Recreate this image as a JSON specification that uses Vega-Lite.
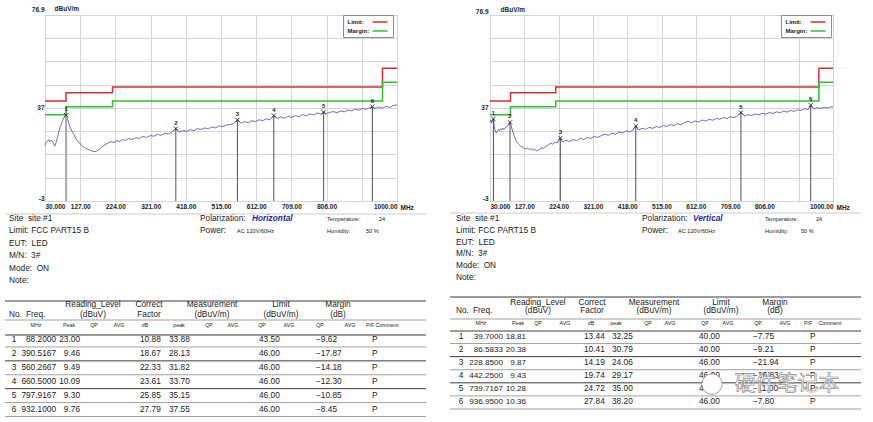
{
"$schema":"https://vega.github.io/schema/vega-lite/v6.json",
"background":"white",
"padding":{"left":4,"top":4,"right":10,"bottom":0},
"config":{"font":"Liberation Sans","view":{"stroke":"#5f5f5f"}},
"spacing":22,
"resolve":{"scale":{"color":"independent"},"legend":{"color":"independent"}},
"datasets":{
"limits":[{"freq":30,"level":40,"s":"Limit"},{"freq":88,"level":43.5,"s":"Limit"},{"freq":216,"level":46,"s":"Limit"},{"freq":960,"level":54,"s":"Limit"},{"freq":1000,"level":54,"s":"Limit"},{"freq":30,"level":34,"s":"Margin"},{"freq":88,"level":37.5,"s":"Margin"},{"freq":216,"level":40,"s":"Margin"},{"freq":960,"level":48,"s":"Margin"},{"freq":1000,"level":48,"s":"Margin"}],
"traceL":[{"freq":30,"level":20.9},{"freq":33,"level":22.0},{"freq":36,"level":22.6},{"freq":40,"level":23.3},{"freq":43,"level":22.4},{"freq":46,"level":23.1},{"freq":50,"level":22.7},{"freq":53,"level":21.9},{"freq":57,"level":20.6},{"freq":60,"level":21.9},{"freq":64,"level":24.1},{"freq":68,"level":26.6},{"freq":72,"level":28.9},{"freq":76,"level":30.6},{"freq":80,"level":32.1},{"freq":84,"level":33.3},{"freq":88.2,"level":33.88},{"freq":92,"level":32.4},{"freq":96,"level":30.2},{"freq":100,"level":28.4},{"freq":105,"level":26.8},{"freq":110,"level":25.5},{"freq":114,"level":24.1},{"freq":118,"level":23.0},{"freq":123,"level":22.4},{"freq":128,"level":21.4},{"freq":133,"level":20.5},{"freq":138,"level":20.1},{"freq":144,"level":19.5},{"freq":150,"level":19.1},{"freq":156,"level":18.7},{"freq":162,"level":18.4},{"freq":168,"level":18.2},{"freq":174,"level":18.6},{"freq":180,"level":19.2},{"freq":186,"level":20.1},{"freq":192,"level":20.8},{"freq":198,"level":21.4},{"freq":205,"level":22.0},{"freq":212,"level":22.5},{"freq":220,"level":22.1},{"freq":228,"level":22.9},{"freq":236,"level":22.6},{"freq":244,"level":23.4},{"freq":252,"level":23.0},{"freq":260,"level":23.8},{"freq":270,"level":23.4},{"freq":280,"level":24.2},{"freq":290,"level":23.9},{"freq":300,"level":24.7},{"freq":310,"level":24.3},{"freq":320,"level":25.1},{"freq":330,"level":24.8},{"freq":340,"level":25.6},{"freq":350,"level":25.2},{"freq":360,"level":26.1},{"freq":370,"level":25.8},{"freq":380,"level":26.6},{"freq":390.5,"level":28.1},{"freq":400,"level":26.5},{"freq":410,"level":27.3},{"freq":420,"level":26.9},{"freq":430,"level":27.7},{"freq":440,"level":27.2},{"freq":450,"level":28.1},{"freq":460,"level":27.7},{"freq":470,"level":28.4},{"freq":480,"level":28.0},{"freq":490,"level":28.8},{"freq":500,"level":28.4},{"freq":510,"level":29.3},{"freq":520,"level":28.9},{"freq":530,"level":29.7},{"freq":540,"level":29.8},{"freq":550,"level":30.4},{"freq":560.3,"level":31.8},{"freq":570,"level":30.4},{"freq":580,"level":31.1},{"freq":590,"level":30.7},{"freq":600,"level":31.5},{"freq":610,"level":31.1},{"freq":620,"level":31.9},{"freq":630,"level":31.5},{"freq":640,"level":32.3},{"freq":650,"level":31.9},{"freq":660.5,"level":33.7},{"freq":670,"level":32.4},{"freq":680,"level":33.1},{"freq":690,"level":32.6},{"freq":700,"level":33.4},{"freq":710,"level":32.9},{"freq":720,"level":33.7},{"freq":730,"level":33.2},{"freq":740,"level":34.1},{"freq":750,"level":33.6},{"freq":760,"level":34.4},{"freq":770,"level":34.0},{"freq":780,"level":34.8},{"freq":790,"level":34.3},{"freq":797.9,"level":35.15},{"freq":805,"level":34.5},{"freq":815,"level":35.1},{"freq":825,"level":35.4},{"freq":835,"level":34.9},{"freq":845,"level":35.7},{"freq":855,"level":35.3},{"freq":865,"level":36.1},{"freq":875,"level":35.7},{"freq":885,"level":36.5},{"freq":895,"level":36.0},{"freq":905,"level":36.8},{"freq":915,"level":36.4},{"freq":925,"level":37.1},{"freq":932.1,"level":37.55},{"freq":940,"level":36.7},{"freq":950,"level":37.4},{"freq":960,"level":36.9},{"freq":970,"level":37.7},{"freq":980,"level":37.2},{"freq":990,"level":38.0},{"freq":1000,"level":38.3}],
"traceR":[{"freq":30,"level":30.8},{"freq":32,"level":31.6},{"freq":35,"level":30.5},{"freq":37.5,"level":31.7},{"freq":39.7,"level":32.25},{"freq":42,"level":29.0},{"freq":45,"level":27.0},{"freq":48,"level":26.2},{"freq":51,"level":27.1},{"freq":54,"level":27.7},{"freq":57,"level":27.1},{"freq":60,"level":28.0},{"freq":63,"level":27.4},{"freq":66,"level":28.3},{"freq":70,"level":27.7},{"freq":74,"level":28.7},{"freq":78,"level":28.9},{"freq":82,"level":29.7},{"freq":86.58,"level":30.79},{"freq":90,"level":29.1},{"freq":94,"level":27.0},{"freq":98,"level":25.1},{"freq":102,"level":23.5},{"freq":107,"level":22.1},{"freq":112,"level":21.3},{"freq":117,"level":20.4},{"freq":122,"level":20.1},{"freq":127,"level":19.6},{"freq":132,"level":19.3},{"freq":137,"level":19.7},{"freq":142,"level":19.0},{"freq":147,"level":19.5},{"freq":152,"level":18.7},{"freq":157,"level":19.2},{"freq":162,"level":18.5},{"freq":167,"level":19.0},{"freq":172,"level":19.4},{"freq":177,"level":19.9},{"freq":182,"level":19.5},{"freq":187,"level":20.4},{"freq":192,"level":20.8},{"freq":197,"level":21.3},{"freq":202,"level":21.8},{"freq":208,"level":21.4},{"freq":214,"level":22.4},{"freq":220,"level":21.9},{"freq":228.85,"level":24.06},{"freq":235,"level":22.3},{"freq":245,"level":23.1},{"freq":255,"level":22.6},{"freq":265,"level":23.4},{"freq":275,"level":23.0},{"freq":285,"level":23.9},{"freq":295,"level":23.4},{"freq":305,"level":24.3},{"freq":315,"level":23.9},{"freq":325,"level":24.7},{"freq":335,"level":24.3},{"freq":345,"level":25.1},{"freq":355,"level":25.7},{"freq":365,"level":25.2},{"freq":375,"level":26.1},{"freq":385,"level":25.7},{"freq":395,"level":26.6},{"freq":405,"level":26.2},{"freq":415,"level":27.1},{"freq":425,"level":26.7},{"freq":435,"level":27.5},{"freq":442.25,"level":29.17},{"freq":450,"level":27.5},{"freq":460,"level":28.2},{"freq":470,"level":27.8},{"freq":480,"level":28.6},{"freq":490,"level":28.2},{"freq":500,"level":29.0},{"freq":510,"level":28.6},{"freq":520,"level":29.4},{"freq":530,"level":29.0},{"freq":540,"level":29.8},{"freq":550,"level":29.4},{"freq":560,"level":30.2},{"freq":570,"level":29.8},{"freq":580,"level":30.7},{"freq":590,"level":31.3},{"freq":600,"level":30.6},{"freq":610,"level":31.4},{"freq":620,"level":30.9},{"freq":630,"level":31.8},{"freq":640,"level":31.3},{"freq":650,"level":32.1},{"freq":660,"level":31.7},{"freq":670,"level":32.5},{"freq":680,"level":32.1},{"freq":690,"level":32.9},{"freq":700,"level":32.4},{"freq":710,"level":33.2},{"freq":720,"level":32.8},{"freq":730,"level":33.6},{"freq":739.72,"level":35.0},{"freq":750,"level":33.5},{"freq":760,"level":34.1},{"freq":770,"level":33.7},{"freq":780,"level":34.4},{"freq":790,"level":34.0},{"freq":800,"level":34.7},{"freq":810,"level":34.3},{"freq":820,"level":35.0},{"freq":830,"level":34.6},{"freq":840,"level":35.3},{"freq":850,"level":34.9},{"freq":860,"level":35.6},{"freq":870,"level":35.2},{"freq":880,"level":35.9},{"freq":890,"level":35.5},{"freq":900,"level":36.2},{"freq":910,"level":35.9},{"freq":920,"level":36.6},{"freq":930,"level":36.3},{"freq":936.95,"level":38.0},{"freq":945,"level":36.6},{"freq":955,"level":37.1},{"freq":965,"level":36.7},{"freq":975,"level":37.3},{"freq":985,"level":36.9},{"freq":995,"level":37.5},{"freq":1000,"level":37.4}],
"resL":[{"no":1,"freq":88.2,"peak":23.00,"cf":10.88,"level":33.88,"limit":43.50,"margin":-9.62,"pf":"P"},{"no":2,"freq":390.5167,"peak":9.46,"cf":18.67,"level":28.13,"limit":46,"margin":-17.87,"pf":"P"},{"no":3,"freq":560.2667,"peak":9.49,"cf":22.33,"level":31.82,"limit":46,"margin":-14.18,"pf":"P"},{"no":4,"freq":660.5,"peak":10.09,"cf":23.61,"level":33.70,"limit":46,"margin":-12.30,"pf":"P"},{"no":5,"freq":797.9167,"peak":9.30,"cf":25.85,"level":35.15,"limit":46,"margin":-10.85,"pf":"P"},{"no":6,"freq":932.1,"peak":9.76,"cf":27.79,"level":37.55,"limit":46,"margin":-8.45,"pf":"P"}],
"resR":[{"no":1,"freq":39.7,"peak":18.81,"cf":13.44,"level":32.25,"limit":40,"margin":-7.75,"pf":"P"},{"no":2,"freq":86.5833,"peak":20.38,"cf":10.41,"level":30.79,"limit":40,"margin":-9.21,"pf":"P"},{"no":3,"freq":228.85,"peak":9.87,"cf":14.19,"level":24.06,"limit":46,"margin":-21.94,"pf":"P"},{"no":4,"freq":442.25,"peak":9.43,"cf":19.74,"level":29.17,"limit":46,"margin":-16.83,"pf":"P"},{"no":5,"freq":739.7167,"peak":10.28,"cf":24.72,"level":35.00,"limit":46,"margin":-11.00,"pf":"P"},{"no":6,"freq":936.95,"peak":10.36,"cf":27.84,"level":38.20,"limit":46,"margin":-7.80,"pf":"P"}],
"labels":[{"g":"info","c":0,"r":-11,"t":"Site\u00a0 site #1"},{"g":"info","c":0,"r":-10,"t":"Limit: FCC PART15 B"},{"g":"info","c":0,"r":-9,"t":"EUT:\u00a0 LED"},{"g":"info","c":0,"r":-8,"t":"M/N:\u00a0 3#"},{"g":"info","c":0,"r":-7,"t":"Mode:\u00a0 ON"},{"g":"info","c":0,"r":-6,"t":"Note:"},{"g":"info","c":29,"r":-11,"t":"Polarization:"},{"g":"info","c":29,"r":-10,"t":"Power:"},
{"g":"small","c":31,"r":-10,"t":"AC 120V/60Hz"},{"g":"small","c":32,"r":-11,"t":"Temperature:"},{"g":"small","c":33,"r":-11,"t":"24"},{"g":"small","c":32,"r":-10,"t":"Humidity:"},{"g":"small","c":34,"r":-10,"t":"50 %"},
{"g":"hl","c":0,"r":-3,"t":"No."},{"g":"hl","c":2,"r":-3,"t":"Freq."},
{"g":"hc","c":7,"r":-4,"t":"Reading_Level"},{"g":"hc","c":7,"r":-3,"t":"(dBuV)"},{"g":"hc","c":10,"r":-4,"t":"Correct"},{"g":"hc","c":10,"r":-3,"t":"Factor"},{"g":"hc","c":13,"r":-4,"t":"Measurement"},{"g":"hc","c":13,"r":-3,"t":"(dBuV/m)"},{"g":"hc","c":18,"r":-4,"t":"Limit"},{"g":"hc","c":18,"r":-3,"t":"(dBuV/m)"},{"g":"hc","c":22,"r":-4,"t":"Margin"},{"g":"hc","c":22,"r":-3,"t":"(dB)"},
{"g":"u","c":3,"r":-1,"t":"MHz"},{"g":"u","c":5,"r":-1,"t":"Peak"},{"g":"u","c":8,"r":-1,"t":"QP"},{"g":"u","c":9,"r":-1,"t":"AVG"},{"g":"u","c":11,"r":-1,"t":"dB"},{"g":"u","c":14,"r":-1,"t":"peak"},{"g":"u","c":16,"r":-1,"t":"QP"},{"g":"u","c":17,"r":-1,"t":"AVG"},{"g":"u","c":19,"r":-1,"t":"QP"},{"g":"u","c":21,"r":-1,"t":"AVG"},{"g":"u","c":23,"r":-1,"t":"QP"},{"g":"u","c":25,"r":-1,"t":"AVG"},{"g":"u","c":26,"r":-1,"t":"P/F"},{"g":"u","c":28,"r":-1,"t":"Comment"}],
"lines":[{"r":-12,"k":"l"},{"r":-5,"k":"d"},{"r":-2,"k":"m"},{"r":0,"k":"d"},{"r":1.5,"k":"m"},{"r":2.5,"k":"d"},{"r":3.5,"k":"m"},{"r":4.5,"k":"d"},{"r":5.5,"k":"m"},{"r":6.5,"k":"m"}]
},
"hconcat":[
{"bounds":"flush","spacing":11,"vconcat":[
{"width":352,"height":186,
"encoding":{
"x":{"field":"freq","type":"quantitative","scale":{"domain":[30,1000],"nice":false,"zero":false},"axis":{"values":[30,127,224,321,418,515,612,709,806,903,1000],"labelExpr":"datum.value == 30 ? '30.000' : datum.value == 903 ? '' : format(datum.value, '.2f')","grid":true,"gridColor":"#d4d4d4","ticks":false,"domain":false,"labelFlush":true,"labelOverlap":false,"labelFontSize":6.5,"labelFontWeight":"bold","labelColor":"#222","labelPadding":2,"title":"MHz","titleX":355,"titleY":6,"titleAlign":"left","titleBaseline":"middle","titleFontSize":6.5,"titleFontWeight":"bold","titleColor":"#222"}},
"y":{"field":"level","type":"quantitative","scale":{"domain":[-3,76.9],"nice":false,"zero":false},"axis":{"values":[-3,7,17,27,37,47,57,67,76.9],"labelExpr":"indexof([-3,37,76.9], datum.value) >= 0 ? '' + datum.value : ''","grid":true,"gridColor":"#d4d4d4","ticks":false,"domain":false,"labelFontSize":6.5,"labelFontWeight":"bold","labelColor":"#222","labelPadding":1,"labelBaseline":{"condition":{"test":"datum.value == 37","value":"middle"},"value":"bottom"},"labelOffset":{"condition":{"test":"datum.value > 76","value":-3},"value":0},"title":"dBuV/m","titleAngle":0,"titleX":9,"titleY":-7,"titleAlign":"left","titleBaseline":"middle","titleFontSize":6.5,"titleFontWeight":"bold","titleColor":"#222"}}},
"layer":[
{"data":{"name":"traceL"},"mark":{"type":"line","color":"#4848b0","strokeWidth":0.8}},
{"data":{"name":"limits"},"mark":{"type":"line","strokeWidth":1.5,"interpolate":"step-after"},"encoding":{"color":{"field":"s","type":"nominal","scale":{"domain":["Limit","Margin"],"range":["#d03030","#30c030"]},"legend":{"orient":"none","legendX":298,"legendY":0,"title":null,"fillColor":"white","strokeColor":"#8c8c8c","padding":2.5,"rowPadding":1,"labelFontSize":6,"labelFontWeight":"bold","labelColor":"#222","labelExpr":"datum.label + ':'","symbolType":"M-2,0L2,0","symbolStrokeWidth":1.5,"symbolSize":56,"symbolOffset":30,"labelOffset":-37}}}},
{"data":{"name":"resL"},"mark":{"type":"rule"},"encoding":{"y2":{"datum":-3},"color":{"condition":{"test":"datum.no == 1","value":"#a8a8a8"},"value":"#505050"},"strokeWidth":{"condition":{"test":"datum.no == 1","value":2},"value":1}}},
{"data":{"name":"resL"},"mark":{"type":"point","shape":"M-1,-1L1,1M-1,1L1,-1","size":18,"filled":false,"color":"#222","strokeWidth":0.9,"opacity":1}},
{"data":{"name":"resL"},"mark":{"type":"text","dy":-6,"fontSize":6,"fontWeight":"bold","color":"#222"},"encoding":{"text":{"field":"no"}}}
]},
{"width":352,"height":212,"view":{"stroke":null},
"layer":[
{"data":{"name":"lines"},"mark":{"type":"rule"},"encoding":{"x":{"datum":35,"type":"quantitative","scale":{"domain":[0,1,2,3,4,5,6,7,8,9,10,11,12,13,14,15,16,17,18,19,20,21,22,23,24,25,26,27,28,29,30,31,32,33,34,35,36,37,38],"range":[-36,-31,-19,-9,11,24,35,48,49,74,104,100,95,167,134,124,164,188,236,217,214,244,293,275,271,305,325,327,342,155,207,192,282,334,321,-40,381,300,230],"zero":false,"nice":false},"axis":null},"x2":{"datum":36},"y":{"field":"r","type":"quantitative","scale":{"domain":[-12,-11,-6,-5,-4,-3,-2,-1,0,1,6.5],"range":[2,7,69,89,93,103,108,113,123,128,204.5],"zero":false,"nice":false},"axis":null},"color":{"condition":[{"test":"datum.k == 'd'","value":"#3a3a3a"},{"test":"datum.k == 'l'","value":"#cccccc"}],"value":"#a0a0a0"}}},
{"data":{"name":"labels"},"transform":[{"filter":"datum.g == 'info'"}],"mark":{"type":"text","align":"left","baseline":"middle","fontSize":8.3,"fill":"#1a1a1a"},"encoding":{"x":{"field":"c","type":"quantitative","scale":{"domain":[0,1,2,3,4,5,6,7,8,9,10,11,12,13,14,15,16,17,18,19,20,21,22,23,24,25,26,27,28,29,30,31,32,33,34,35,36,37,38],"range":[-36,-31,-19,-9,11,24,35,48,49,74,104,100,95,167,134,124,164,188,236,217,214,244,293,275,271,305,325,327,342,155,207,192,282,334,321,-40,381,300,230],"zero":false,"nice":false},"axis":null},"y":{"field":"r","type":"quantitative","scale":{"domain":[-12,-11,-6,-5,-4,-3,-2,-1,0,1,6.5],"range":[2,7,69,89,93,103,108,113,123,128,204.5],"zero":false,"nice":false},"axis":null},"text":{"field":"t"}}},
{"data":{"name":"labels"},"transform":[{"filter":"datum.g == 'small'"}],"mark":{"type":"text","align":"left","baseline":"middle","fontSize":5.6,"fill":"#1a1a1a"},"encoding":{"x":{"field":"c","type":"quantitative","scale":{"domain":[0,1,2,3,4,5,6,7,8,9,10,11,12,13,14,15,16,17,18,19,20,21,22,23,24,25,26,27,28,29,30,31,32,33,34,35,36,37,38],"range":[-36,-31,-19,-9,11,24,35,48,49,74,104,100,95,167,134,124,164,188,236,217,214,244,293,275,271,305,325,327,342,155,207,192,282,334,321,-40,381,300,230],"zero":false,"nice":false},"axis":null},"y":{"field":"r","type":"quantitative","scale":{"domain":[-12,-11,-6,-5,-4,-3,-2,-1,0,1,6.5],"range":[2,7,69,89,93,103,108,113,123,128,204.5],"zero":false,"nice":false},"axis":null},"text":{"field":"t"}}},
{"data":{"name":"labels"},"transform":[{"filter":"datum.g == 'hl'"}],"mark":{"type":"text","align":"left","baseline":"middle","fontSize":8.3,"fill":"#1a1a1a"},"encoding":{"x":{"field":"c","type":"quantitative","scale":{"domain":[0,1,2,3,4,5,6,7,8,9,10,11,12,13,14,15,16,17,18,19,20,21,22,23,24,25,26,27,28,29,30,31,32,33,34,35,36,37,38],"range":[-36,-31,-19,-9,11,24,35,48,49,74,104,100,95,167,134,124,164,188,236,217,214,244,293,275,271,305,325,327,342,155,207,192,282,334,321,-40,381,300,230],"zero":false,"nice":false},"axis":null},"y":{"field":"r","type":"quantitative","scale":{"domain":[-12,-11,-6,-5,-4,-3,-2,-1,0,1,6.5],"range":[2,7,69,89,93,103,108,113,123,128,204.5],"zero":false,"nice":false},"axis":null},"text":{"field":"t"}}},
{"data":{"name":"labels"},"transform":[{"filter":"datum.g == 'hc'"}],"mark":{"type":"text","align":"center","baseline":"middle","fontSize":8.3,"fill":"#1a1a1a"},"encoding":{"x":{"field":"c","type":"quantitative","scale":{"domain":[0,1,2,3,4,5,6,7,8,9,10,11,12,13,14,15,16,17,18,19,20,21,22,23,24,25,26,27,28,29,30,31,32,33,34,35,36,37,38],"range":[-36,-31,-19,-9,11,24,35,48,49,74,104,100,95,167,134,124,164,188,236,217,214,244,293,275,271,305,325,327,342,155,207,192,282,334,321,-40,381,300,230],"zero":false,"nice":false},"axis":null},"y":{"field":"r","type":"quantitative","scale":{"domain":[-12,-11,-6,-5,-4,-3,-2,-1,0,1,6.5],"range":[2,7,69,89,93,103,108,113,123,128,204.5],"zero":false,"nice":false},"axis":null},"text":{"field":"t"}}},
{"data":{"name":"labels"},"transform":[{"filter":"datum.g == 'u'"}],"mark":{"type":"text","align":"center","baseline":"middle","fontSize":5.3,"fill":"#1a1a1a"},"encoding":{"x":{"field":"c","type":"quantitative","scale":{"domain":[0,1,2,3,4,5,6,7,8,9,10,11,12,13,14,15,16,17,18,19,20,21,22,23,24,25,26,27,28,29,30,31,32,33,34,35,36,37,38],"range":[-36,-31,-19,-9,11,24,35,48,49,74,104,100,95,167,134,124,164,188,236,217,214,244,293,275,271,305,325,327,342,155,207,192,282,334,321,-40,381,300,230],"zero":false,"nice":false},"axis":null},"y":{"field":"r","type":"quantitative","scale":{"domain":[-12,-11,-6,-5,-4,-3,-2,-1,0,1,6.5],"range":[2,7,69,89,93,103,108,113,123,128,204.5],"zero":false,"nice":false},"axis":null},"text":{"field":"t"}}},
{"data":{"values":[{"t":"Horizontal"}]},"mark":{"type":"text","align":"left","baseline":"middle","fontSize":8.3,"fontWeight":"bold","fontStyle":"italic","fill":"#1c2a9c"},"encoding":{"x":{"datum":30,"type":"quantitative","scale":{"domain":[0,1,2,3,4,5,6,7,8,9,10,11,12,13,14,15,16,17,18,19,20,21,22,23,24,25,26,27,28,29,30,31,32,33,34,35,36,37,38],"range":[-36,-31,-19,-9,11,24,35,48,49,74,104,100,95,167,134,124,164,188,236,217,214,244,293,275,271,305,325,327,342,155,207,192,282,334,321,-40,381,300,230],"zero":false,"nice":false},"axis":null},"y":{"datum":-11,"type":"quantitative","scale":{"domain":[-12,-11,-6,-5,-4,-3,-2,-1,0,1,6.5],"range":[2,7,69,89,93,103,108,113,123,128,204.5],"zero":false,"nice":false},"axis":null},"text":{"field":"t"}}},
{"data":{"name":"resL"},"mark":{"type":"text","align":"center","baseline":"middle","fontSize":8.3,"fill":"#1a1a1a"},"encoding":{"x":{"datum":1,"type":"quantitative","scale":{"domain":[0,1,2,3,4,5,6,7,8,9,10,11,12,13,14,15,16,17,18,19,20,21,22,23,24,25,26,27,28,29,30,31,32,33,34,35,36,37,38],"range":[-36,-31,-19,-9,11,24,35,48,49,74,104,100,95,167,134,124,164,188,236,217,214,244,293,275,271,305,325,327,342,155,207,192,282,334,321,-40,381,300,230],"zero":false,"nice":false},"axis":null},"y":{"field":"no","type":"quantitative","scale":{"domain":[-12,-11,-6,-5,-4,-3,-2,-1,0,1,6.5],"range":[2,7,69,89,93,103,108,113,123,128,204.5],"zero":false,"nice":false},"axis":null},"text":{"field":"no"}}},
{"data":{"name":"resL"},"mark":{"type":"text","align":"right","baseline":"middle","fontSize":8.3,"fill":"#1a1a1a"},"encoding":{"x":{"datum":4,"type":"quantitative","scale":{"domain":[0,1,2,3,4,5,6,7,8,9,10,11,12,13,14,15,16,17,18,19,20,21,22,23,24,25,26,27,28,29,30,31,32,33,34,35,36,37,38],"range":[-36,-31,-19,-9,11,24,35,48,49,74,104,100,95,167,134,124,164,188,236,217,214,244,293,275,271,305,325,327,342,155,207,192,282,334,321,-40,381,300,230],"zero":false,"nice":false},"axis":null},"y":{"field":"no","type":"quantitative","scale":{"domain":[-12,-11,-6,-5,-4,-3,-2,-1,0,1,6.5],"range":[2,7,69,89,93,103,108,113,123,128,204.5],"zero":false,"nice":false},"axis":null},"text":{"field":"freq","type":"quantitative","format":".4f"}}},
{"data":{"name":"resL"},"mark":{"type":"text","align":"right","baseline":"middle","fontSize":8.3,"fill":"#1a1a1a"},"encoding":{"x":{"datum":6,"type":"quantitative","scale":{"domain":[0,1,2,3,4,5,6,7,8,9,10,11,12,13,14,15,16,17,18,19,20,21,22,23,24,25,26,27,28,29,30,31,32,33,34,35,36,37,38],"range":[-36,-31,-19,-9,11,24,35,48,49,74,104,100,95,167,134,124,164,188,236,217,214,244,293,275,271,305,325,327,342,155,207,192,282,334,321,-40,381,300,230],"zero":false,"nice":false},"axis":null},"y":{"field":"no","type":"quantitative","scale":{"domain":[-12,-11,-6,-5,-4,-3,-2,-1,0,1,6.5],"range":[2,7,69,89,93,103,108,113,123,128,204.5],"zero":false,"nice":false},"axis":null},"text":{"field":"peak","type":"quantitative","format":".2f"}}},
{"data":{"name":"resL"},"mark":{"type":"text","align":"left","baseline":"middle","fontSize":8.3,"fill":"#1a1a1a"},"encoding":{"x":{"datum":12,"type":"quantitative","scale":{"domain":[0,1,2,3,4,5,6,7,8,9,10,11,12,13,14,15,16,17,18,19,20,21,22,23,24,25,26,27,28,29,30,31,32,33,34,35,36,37,38],"range":[-36,-31,-19,-9,11,24,35,48,49,74,104,100,95,167,134,124,164,188,236,217,214,244,293,275,271,305,325,327,342,155,207,192,282,334,321,-40,381,300,230],"zero":false,"nice":false},"axis":null},"y":{"field":"no","type":"quantitative","scale":{"domain":[-12,-11,-6,-5,-4,-3,-2,-1,0,1,6.5],"range":[2,7,69,89,93,103,108,113,123,128,204.5],"zero":false,"nice":false},"axis":null},"text":{"field":"cf","type":"quantitative","format":".2f"}}},
{"data":{"name":"resL"},"mark":{"type":"text","align":"left","baseline":"middle","fontSize":8.3,"fill":"#1a1a1a"},"encoding":{"x":{"datum":15,"type":"quantitative","scale":{"domain":[0,1,2,3,4,5,6,7,8,9,10,11,12,13,14,15,16,17,18,19,20,21,22,23,24,25,26,27,28,29,30,31,32,33,34,35,36,37,38],"range":[-36,-31,-19,-9,11,24,35,48,49,74,104,100,95,167,134,124,164,188,236,217,214,244,293,275,271,305,325,327,342,155,207,192,282,334,321,-40,381,300,230],"zero":false,"nice":false},"axis":null},"y":{"field":"no","type":"quantitative","scale":{"domain":[-12,-11,-6,-5,-4,-3,-2,-1,0,1,6.5],"range":[2,7,69,89,93,103,108,113,123,128,204.5],"zero":false,"nice":false},"axis":null},"text":{"field":"level","type":"quantitative","format":".2f"}}},
{"data":{"name":"resL"},"mark":{"type":"text","align":"left","baseline":"middle","fontSize":8.3,"fill":"#1a1a1a"},"encoding":{"x":{"datum":20,"type":"quantitative","scale":{"domain":[0,1,2,3,4,5,6,7,8,9,10,11,12,13,14,15,16,17,18,19,20,21,22,23,24,25,26,27,28,29,30,31,32,33,34,35,36,37,38],"range":[-36,-31,-19,-9,11,24,35,48,49,74,104,100,95,167,134,124,164,188,236,217,214,244,293,275,271,305,325,327,342,155,207,192,282,334,321,-40,381,300,230],"zero":false,"nice":false},"axis":null},"y":{"field":"no","type":"quantitative","scale":{"domain":[-12,-11,-6,-5,-4,-3,-2,-1,0,1,6.5],"range":[2,7,69,89,93,103,108,113,123,128,204.5],"zero":false,"nice":false},"axis":null},"text":{"field":"limit","type":"quantitative","format":".2f"}}},
{"data":{"name":"resL"},"mark":{"type":"text","align":"left","baseline":"middle","fontSize":8.3,"fill":"#1a1a1a"},"encoding":{"x":{"datum":24,"type":"quantitative","scale":{"domain":[0,1,2,3,4,5,6,7,8,9,10,11,12,13,14,15,16,17,18,19,20,21,22,23,24,25,26,27,28,29,30,31,32,33,34,35,36,37,38],"range":[-36,-31,-19,-9,11,24,35,48,49,74,104,100,95,167,134,124,164,188,236,217,214,244,293,275,271,305,325,327,342,155,207,192,282,334,321,-40,381,300,230],"zero":false,"nice":false},"axis":null},"y":{"field":"no","type":"quantitative","scale":{"domain":[-12,-11,-6,-5,-4,-3,-2,-1,0,1,6.5],"range":[2,7,69,89,93,103,108,113,123,128,204.5],"zero":false,"nice":false},"axis":null},"text":{"field":"margin","type":"quantitative","format":".2f"}}},
{"data":{"name":"resL"},"mark":{"type":"text","align":"left","baseline":"middle","fontSize":8.3,"fill":"#1a1a1a"},"encoding":{"x":{"datum":27,"type":"quantitative","scale":{"domain":[0,1,2,3,4,5,6,7,8,9,10,11,12,13,14,15,16,17,18,19,20,21,22,23,24,25,26,27,28,29,30,31,32,33,34,35,36,37,38],"range":[-36,-31,-19,-9,11,24,35,48,49,74,104,100,95,167,134,124,164,188,236,217,214,244,293,275,271,305,325,327,342,155,207,192,282,334,321,-40,381,300,230],"zero":false,"nice":false},"axis":null},"y":{"field":"no","type":"quantitative","scale":{"domain":[-12,-11,-6,-5,-4,-3,-2,-1,0,1,6.5],"range":[2,7,69,89,93,103,108,113,123,128,204.5],"zero":false,"nice":false},"axis":null},"text":{"field":"pf"}}}
]}
]},
{"bounds":"flush","spacing":11,"vconcat":[
{"width":343,"height":186,
"encoding":{
"x":{"field":"freq","type":"quantitative","scale":{"domain":[30,1000],"nice":false,"zero":false},"axis":{"values":[30,127,224,321,418,515,612,709,806,903,1000],"labelExpr":"datum.value == 30 ? '30.000' : datum.value == 903 ? '' : format(datum.value, '.2f')","grid":true,"gridColor":"#d4d4d4","ticks":false,"domain":false,"labelFlush":true,"labelOverlap":false,"labelFontSize":6.5,"labelFontWeight":"bold","labelColor":"#222","labelPadding":2,"title":"MHz","titleX":346,"titleY":6,"titleAlign":"left","titleBaseline":"middle","titleFontSize":6.5,"titleFontWeight":"bold","titleColor":"#222"}},
"y":{"field":"level","type":"quantitative","scale":{"domain":[-3,76.9],"nice":false,"zero":false},"axis":{"values":[-3,7,17,27,37,47,57,67,76.9],"labelExpr":"indexof([-3,37,76.9], datum.value) >= 0 ? '' + datum.value : ''","grid":true,"gridColor":"#d4d4d4","ticks":false,"domain":false,"labelFontSize":6.5,"labelFontWeight":"bold","labelColor":"#222","labelPadding":2,"labelBaseline":{"condition":{"test":"datum.value == 37","value":"middle"},"value":"bottom"},"labelOffset":{"condition":{"test":"datum.value > 76","value":-1},"value":0},"title":"dBuV/m","titleAngle":0,"titleX":10,"titleY":-6,"titleAlign":"left","titleBaseline":"middle","titleFontSize":6.5,"titleFontWeight":"bold","titleColor":"#222"}}},
"layer":[
{"data":{"name":"traceR"},"mark":{"type":"line","color":"#4848b0","strokeWidth":0.8}},
{"data":{"name":"limits"},"mark":{"type":"line","strokeWidth":1.5,"interpolate":"step-after"},"encoding":{"color":{"field":"s","type":"nominal","scale":{"domain":["Limit","Margin"],"range":["#d03030","#30c030"]},"legend":{"orient":"none","legendX":291,"legendY":0,"title":null,"fillColor":"white","strokeColor":"#8c8c8c","padding":2.5,"rowPadding":1,"labelFontSize":6,"labelFontWeight":"bold","labelColor":"#222","labelExpr":"datum.label + ':'","symbolType":"M-2,0L2,0","symbolStrokeWidth":1.5,"symbolSize":56,"symbolOffset":30,"labelOffset":-37}}}},
{"data":{"name":"resR"},"mark":{"type":"rule","color":"#505050","strokeWidth":1},"encoding":{"y2":{"datum":-3}}},
{"data":{"name":"resR"},"mark":{"type":"point","shape":"M-1,-1L1,1M-1,1L1,-1","size":18,"filled":false,"color":"#222","strokeWidth":0.9,"opacity":1}},
{"data":{"name":"resR"},"mark":{"type":"text","dy":-6,"fontSize":6,"fontWeight":"bold","color":"#222"},"encoding":{"text":{"field":"no"}}}
]},
{"width":343,"height":212,"view":{"stroke":null},
"layer":[
{"data":{"name":"lines"},"mark":{"type":"rule"},"encoding":{"x":{"datum":35,"type":"quantitative","scale":{"domain":[0,1,2,3,4,5,6,7,8,9,10,11,12,13,14,15,16,17,18,19,20,21,22,23,24,25,26,27,28,29,30,31,32,33,34,35,36,37,38],"range":[-34,-29,-17,-9,13,28,36,48,48,75,102,101,94,164,126,122,158,180,231,215,209,238,285,268,263,295,318,320,340,152,203,188,275,326,311,-40,371,297,222],"zero":false,"nice":false},"axis":null},"x2":{"datum":36},"y":{"field":"r","type":"quantitative","scale":{"domain":[-12,-11,-6,-5,-4,-3,-2,-1,0,1,6.5],"range":[1,7,66,85,91,99,107,111,119,125,197],"zero":false,"nice":false},"axis":null},"color":{"condition":[{"test":"datum.k == 'd'","value":"#3a3a3a"},{"test":"datum.k == 'l'","value":"#cccccc"}],"value":"#a0a0a0"}}},
{"data":{"name":"labels"},"transform":[{"filter":"datum.g == 'info'"}],"mark":{"type":"text","align":"left","baseline":"middle","fontSize":8.3,"fill":"#1a1a1a"},"encoding":{"x":{"field":"c","type":"quantitative","scale":{"domain":[0,1,2,3,4,5,6,7,8,9,10,11,12,13,14,15,16,17,18,19,20,21,22,23,24,25,26,27,28,29,30,31,32,33,34,35,36,37,38],"range":[-34,-29,-17,-9,13,28,36,48,48,75,102,101,94,164,126,122,158,180,231,215,209,238,285,268,263,295,318,320,340,152,203,188,275,326,311,-40,371,297,222],"zero":false,"nice":false},"axis":null},"y":{"field":"r","type":"quantitative","scale":{"domain":[-12,-11,-6,-5,-4,-3,-2,-1,0,1,6.5],"range":[1,7,66,85,91,99,107,111,119,125,197],"zero":false,"nice":false},"axis":null},"text":{"field":"t"}}},
{"data":{"name":"labels"},"transform":[{"filter":"datum.g == 'small'"}],"mark":{"type":"text","align":"left","baseline":"middle","fontSize":5.6,"fill":"#1a1a1a"},"encoding":{"x":{"field":"c","type":"quantitative","scale":{"domain":[0,1,2,3,4,5,6,7,8,9,10,11,12,13,14,15,16,17,18,19,20,21,22,23,24,25,26,27,28,29,30,31,32,33,34,35,36,37,38],"range":[-34,-29,-17,-9,13,28,36,48,48,75,102,101,94,164,126,122,158,180,231,215,209,238,285,268,263,295,318,320,340,152,203,188,275,326,311,-40,371,297,222],"zero":false,"nice":false},"axis":null},"y":{"field":"r","type":"quantitative","scale":{"domain":[-12,-11,-6,-5,-4,-3,-2,-1,0,1,6.5],"range":[1,7,66,85,91,99,107,111,119,125,197],"zero":false,"nice":false},"axis":null},"text":{"field":"t"}}},
{"data":{"name":"labels"},"transform":[{"filter":"datum.g == 'hl'"}],"mark":{"type":"text","align":"left","baseline":"middle","fontSize":8.3,"fill":"#1a1a1a"},"encoding":{"x":{"field":"c","type":"quantitative","scale":{"domain":[0,1,2,3,4,5,6,7,8,9,10,11,12,13,14,15,16,17,18,19,20,21,22,23,24,25,26,27,28,29,30,31,32,33,34,35,36,37,38],"range":[-34,-29,-17,-9,13,28,36,48,48,75,102,101,94,164,126,122,158,180,231,215,209,238,285,268,263,295,318,320,340,152,203,188,275,326,311,-40,371,297,222],"zero":false,"nice":false},"axis":null},"y":{"field":"r","type":"quantitative","scale":{"domain":[-12,-11,-6,-5,-4,-3,-2,-1,0,1,6.5],"range":[1,7,66,85,91,99,107,111,119,125,197],"zero":false,"nice":false},"axis":null},"text":{"field":"t"}}},
{"data":{"name":"labels"},"transform":[{"filter":"datum.g == 'hc'"}],"mark":{"type":"text","align":"center","baseline":"middle","fontSize":8.3,"fill":"#1a1a1a"},"encoding":{"x":{"field":"c","type":"quantitative","scale":{"domain":[0,1,2,3,4,5,6,7,8,9,10,11,12,13,14,15,16,17,18,19,20,21,22,23,24,25,26,27,28,29,30,31,32,33,34,35,36,37,38],"range":[-34,-29,-17,-9,13,28,36,48,48,75,102,101,94,164,126,122,158,180,231,215,209,238,285,268,263,295,318,320,340,152,203,188,275,326,311,-40,371,297,222],"zero":false,"nice":false},"axis":null},"y":{"field":"r","type":"quantitative","scale":{"domain":[-12,-11,-6,-5,-4,-3,-2,-1,0,1,6.5],"range":[1,7,66,85,91,99,107,111,119,125,197],"zero":false,"nice":false},"axis":null},"text":{"field":"t"}}},
{"data":{"name":"labels"},"transform":[{"filter":"datum.g == 'u'"}],"mark":{"type":"text","align":"center","baseline":"middle","fontSize":5.3,"fill":"#1a1a1a"},"encoding":{"x":{"field":"c","type":"quantitative","scale":{"domain":[0,1,2,3,4,5,6,7,8,9,10,11,12,13,14,15,16,17,18,19,20,21,22,23,24,25,26,27,28,29,30,31,32,33,34,35,36,37,38],"range":[-34,-29,-17,-9,13,28,36,48,48,75,102,101,94,164,126,122,158,180,231,215,209,238,285,268,263,295,318,320,340,152,203,188,275,326,311,-40,371,297,222],"zero":false,"nice":false},"axis":null},"y":{"field":"r","type":"quantitative","scale":{"domain":[-12,-11,-6,-5,-4,-3,-2,-1,0,1,6.5],"range":[1,7,66,85,91,99,107,111,119,125,197],"zero":false,"nice":false},"axis":null},"text":{"field":"t"}}},
{"data":{"values":[{"t":"Vertical"}]},"mark":{"type":"text","align":"left","baseline":"middle","fontSize":8.3,"fontWeight":"bold","fontStyle":"italic","fill":"#1c2a9c"},"encoding":{"x":{"datum":30,"type":"quantitative","scale":{"domain":[0,1,2,3,4,5,6,7,8,9,10,11,12,13,14,15,16,17,18,19,20,21,22,23,24,25,26,27,28,29,30,31,32,33,34,35,36,37,38],"range":[-34,-29,-17,-9,13,28,36,48,48,75,102,101,94,164,126,122,158,180,231,215,209,238,285,268,263,295,318,320,340,152,203,188,275,326,311,-40,371,297,222],"zero":false,"nice":false},"axis":null},"y":{"datum":-11,"type":"quantitative","scale":{"domain":[-12,-11,-6,-5,-4,-3,-2,-1,0,1,6.5],"range":[1,7,66,85,91,99,107,111,119,125,197],"zero":false,"nice":false},"axis":null},"text":{"field":"t"}}},
{"data":{"name":"resR"},"mark":{"type":"text","align":"center","baseline":"middle","fontSize":8.3,"fill":"#1a1a1a"},"encoding":{"x":{"datum":1,"type":"quantitative","scale":{"domain":[0,1,2,3,4,5,6,7,8,9,10,11,12,13,14,15,16,17,18,19,20,21,22,23,24,25,26,27,28,29,30,31,32,33,34,35,36,37,38],"range":[-34,-29,-17,-9,13,28,36,48,48,75,102,101,94,164,126,122,158,180,231,215,209,238,285,268,263,295,318,320,340,152,203,188,275,326,311,-40,371,297,222],"zero":false,"nice":false},"axis":null},"y":{"field":"no","type":"quantitative","scale":{"domain":[-12,-11,-6,-5,-4,-3,-2,-1,0,1,6.5],"range":[1,7,66,85,91,99,107,111,119,125,197],"zero":false,"nice":false},"axis":null},"text":{"field":"no"}}},
{"data":{"name":"resR"},"mark":{"type":"text","align":"right","baseline":"middle","fontSize":8.1,"fill":"#1a1a1a"},"encoding":{"x":{"datum":4,"type":"quantitative","scale":{"domain":[0,1,2,3,4,5,6,7,8,9,10,11,12,13,14,15,16,17,18,19,20,21,22,23,24,25,26,27,28,29,30,31,32,33,34,35,36,37,38],"range":[-34,-29,-17,-9,13,28,36,48,48,75,102,101,94,164,126,122,158,180,231,215,209,238,285,268,263,295,318,320,340,152,203,188,275,326,311,-40,371,297,222],"zero":false,"nice":false},"axis":null},"y":{"field":"no","type":"quantitative","scale":{"domain":[-12,-11,-6,-5,-4,-3,-2,-1,0,1,6.5],"range":[1,7,66,85,91,99,107,111,119,125,197],"zero":false,"nice":false},"axis":null},"text":{"field":"freq","type":"quantitative","format":".4f"}}},
{"data":{"name":"resR"},"mark":{"type":"text","align":"right","baseline":"middle","fontSize":8.1,"fill":"#1a1a1a"},"encoding":{"x":{"datum":6,"type":"quantitative","scale":{"domain":[0,1,2,3,4,5,6,7,8,9,10,11,12,13,14,15,16,17,18,19,20,21,22,23,24,25,26,27,28,29,30,31,32,33,34,35,36,37,38],"range":[-34,-29,-17,-9,13,28,36,48,48,75,102,101,94,164,126,122,158,180,231,215,209,238,285,268,263,295,318,320,340,152,203,188,275,326,311,-40,371,297,222],"zero":false,"nice":false},"axis":null},"y":{"field":"no","type":"quantitative","scale":{"domain":[-12,-11,-6,-5,-4,-3,-2,-1,0,1,6.5],"range":[1,7,66,85,91,99,107,111,119,125,197],"zero":false,"nice":false},"axis":null},"text":{"field":"peak","type":"quantitative","format":".2f"}}},
{"data":{"name":"resR"},"mark":{"type":"text","align":"left","baseline":"middle","fontSize":8.3,"fill":"#1a1a1a"},"encoding":{"x":{"datum":12,"type":"quantitative","scale":{"domain":[0,1,2,3,4,5,6,7,8,9,10,11,12,13,14,15,16,17,18,19,20,21,22,23,24,25,26,27,28,29,30,31,32,33,34,35,36,37,38],"range":[-34,-29,-17,-9,13,28,36,48,48,75,102,101,94,164,126,122,158,180,231,215,209,238,285,268,263,295,318,320,340,152,203,188,275,326,311,-40,371,297,222],"zero":false,"nice":false},"axis":null},"y":{"field":"no","type":"quantitative","scale":{"domain":[-12,-11,-6,-5,-4,-3,-2,-1,0,1,6.5],"range":[1,7,66,85,91,99,107,111,119,125,197],"zero":false,"nice":false},"axis":null},"text":{"field":"cf","type":"quantitative","format":".2f"}}},
{"data":{"name":"resR"},"mark":{"type":"text","align":"left","baseline":"middle","fontSize":8.3,"fill":"#1a1a1a"},"encoding":{"x":{"datum":15,"type":"quantitative","scale":{"domain":[0,1,2,3,4,5,6,7,8,9,10,11,12,13,14,15,16,17,18,19,20,21,22,23,24,25,26,27,28,29,30,31,32,33,34,35,36,37,38],"range":[-34,-29,-17,-9,13,28,36,48,48,75,102,101,94,164,126,122,158,180,231,215,209,238,285,268,263,295,318,320,340,152,203,188,275,326,311,-40,371,297,222],"zero":false,"nice":false},"axis":null},"y":{"field":"no","type":"quantitative","scale":{"domain":[-12,-11,-6,-5,-4,-3,-2,-1,0,1,6.5],"range":[1,7,66,85,91,99,107,111,119,125,197],"zero":false,"nice":false},"axis":null},"text":{"field":"level","type":"quantitative","format":".2f"}}},
{"data":{"name":"resR"},"mark":{"type":"text","align":"left","baseline":"middle","fontSize":8.3,"fill":"#1a1a1a"},"encoding":{"x":{"datum":20,"type":"quantitative","scale":{"domain":[0,1,2,3,4,5,6,7,8,9,10,11,12,13,14,15,16,17,18,19,20,21,22,23,24,25,26,27,28,29,30,31,32,33,34,35,36,37,38],"range":[-34,-29,-17,-9,13,28,36,48,48,75,102,101,94,164,126,122,158,180,231,215,209,238,285,268,263,295,318,320,340,152,203,188,275,326,311,-40,371,297,222],"zero":false,"nice":false},"axis":null},"y":{"field":"no","type":"quantitative","scale":{"domain":[-12,-11,-6,-5,-4,-3,-2,-1,0,1,6.5],"range":[1,7,66,85,91,99,107,111,119,125,197],"zero":false,"nice":false},"axis":null},"text":{"field":"limit","type":"quantitative","format":".2f"}}},
{"data":{"name":"resR"},"mark":{"type":"text","align":"left","baseline":"middle","fontSize":8.3,"fill":"#1a1a1a"},"encoding":{"x":{"datum":24,"type":"quantitative","scale":{"domain":[0,1,2,3,4,5,6,7,8,9,10,11,12,13,14,15,16,17,18,19,20,21,22,23,24,25,26,27,28,29,30,31,32,33,34,35,36,37,38],"range":[-34,-29,-17,-9,13,28,36,48,48,75,102,101,94,164,126,122,158,180,231,215,209,238,285,268,263,295,318,320,340,152,203,188,275,326,311,-40,371,297,222],"zero":false,"nice":false},"axis":null},"y":{"field":"no","type":"quantitative","scale":{"domain":[-12,-11,-6,-5,-4,-3,-2,-1,0,1,6.5],"range":[1,7,66,85,91,99,107,111,119,125,197],"zero":false,"nice":false},"axis":null},"text":{"field":"margin","type":"quantitative","format":".2f"}}},
{"data":{"name":"resR"},"mark":{"type":"text","align":"left","baseline":"middle","fontSize":8.3,"fill":"#1a1a1a"},"encoding":{"x":{"datum":27,"type":"quantitative","scale":{"domain":[0,1,2,3,4,5,6,7,8,9,10,11,12,13,14,15,16,17,18,19,20,21,22,23,24,25,26,27,28,29,30,31,32,33,34,35,36,37,38],"range":[-34,-29,-17,-9,13,28,36,48,48,75,102,101,94,164,126,122,158,180,231,215,209,238,285,268,263,295,318,320,340,152,203,188,275,326,311,-40,371,297,222],"zero":false,"nice":false},"axis":null},"y":{"field":"no","type":"quantitative","scale":{"domain":[-12,-11,-6,-5,-4,-3,-2,-1,0,1,6.5],"range":[1,7,66,85,91,99,107,111,119,125,197],"zero":false,"nice":false},"axis":null},"text":{"field":"pf"}}},
{"data":{"values":[{"t":"硬件笔记本"}]},"mark":{"type":"point","shape":"circle","size":420,"filled":true,"fill":"white","stroke":"#8c8c8c","strokeWidth":0.8,"opacity":1},"encoding":{"x":{"datum":38,"type":"quantitative","scale":{"domain":[0,1,2,3,4,5,6,7,8,9,10,11,12,13,14,15,16,17,18,19,20,21,22,23,24,25,26,27,28,29,30,31,32,33,34,35,36,37,38],"range":[-34,-29,-17,-9,13,28,36,48,48,75,102,101,94,164,126,122,158,180,231,215,209,238,285,268,263,295,318,320,340,152,203,188,275,326,311,-40,371,297,222],"zero":false,"nice":false},"axis":null},"y":{"datum":4.6,"type":"quantitative","scale":{"domain":[-12,-11,-6,-5,-4,-3,-2,-1,0,1,6.5],"range":[1,7,66,85,91,99,107,111,119,125,197],"zero":false,"nice":false},"axis":null}}},
{"data":{"values":[{"t":"硬件笔记本"}]},"mark":{"type":"text","align":"center","baseline":"middle","fontSize":21,"font":"Noto Sans CJK SC","fill":"white","stroke":"#8c8c8c","strokeWidth":0.7},"encoding":{"x":{"datum":37,"type":"quantitative","scale":{"domain":[0,1,2,3,4,5,6,7,8,9,10,11,12,13,14,15,16,17,18,19,20,21,22,23,24,25,26,27,28,29,30,31,32,33,34,35,36,37,38],"range":[-34,-29,-17,-9,13,28,36,48,48,75,102,101,94,164,126,122,158,180,231,215,209,238,285,268,263,295,318,320,340,152,203,188,275,326,311,-40,371,297,222],"zero":false,"nice":false},"axis":null},"y":{"datum":4.6,"type":"quantitative","scale":{"domain":[-12,-11,-6,-5,-4,-3,-2,-1,0,1,6.5],"range":[1,7,66,85,91,99,107,111,119,125,197],"zero":false,"nice":false},"axis":null},"text":{"field":"t"}}}
]}
]}
]
}
